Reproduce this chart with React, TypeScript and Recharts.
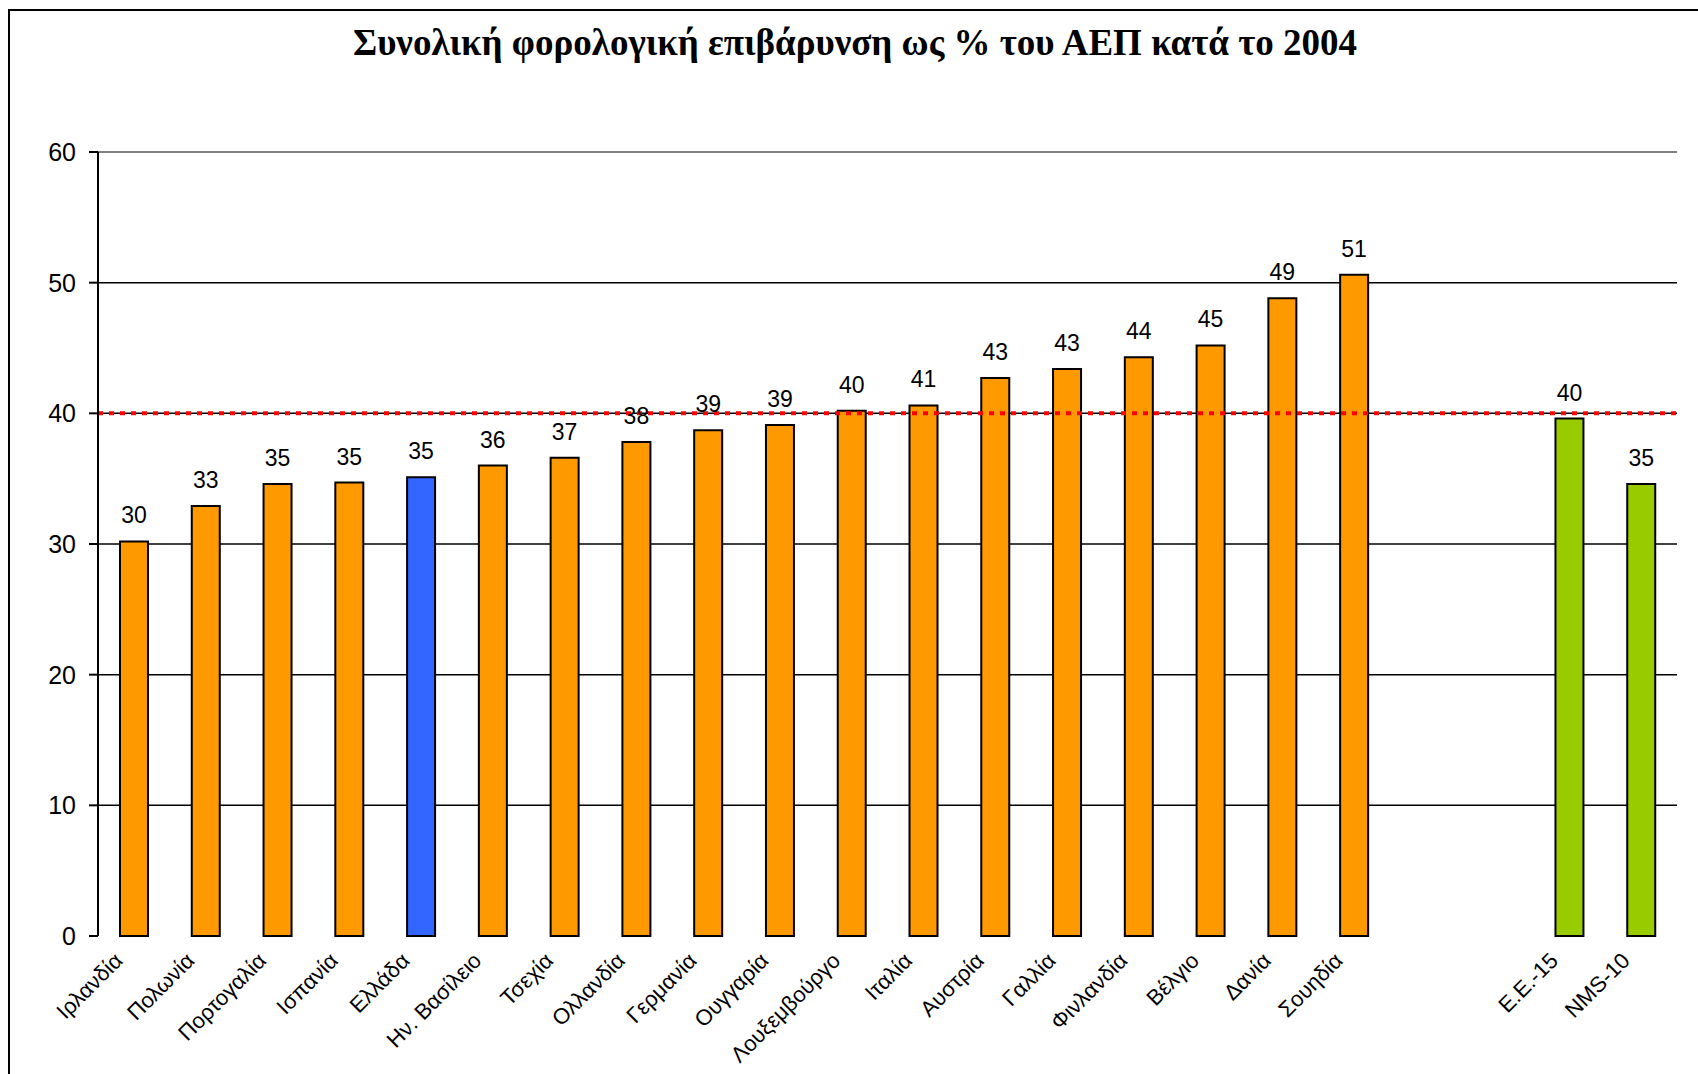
import {
  BarChart,
  Bar,
  XAxis,
  YAxis,
  CartesianGrid,
  ReferenceLine,
  LabelList,
  Cell,
} from "recharts";

// categories (two empty slots separate the countries from the aggregates)
const countries = [
  "Ιρλανδία",
  "Πολωνία",
  "Πορτογαλία",
  "Ισπανία",
  "Ελλάδα",
  "Ην. Βασίλειο",
  "Τσεχία",
  "Ολλανδία",
  "Γερμανία",
  "Ουγγαρία",
  "Λουξεμβούργο",
  "Ιταλία",
  "Αυστρία",
  "Γαλλία",
  "Φινλανδία",
  "Βέλγιο",
  "Δανία",
  "Σουηδία",
  " ",
  "  ",
  "Ε.Ε.-15",
  "NMS-10",
];

// συνολική φορολογική επιβάρυνση, % του ΑΕΠ (2004)
const taxBurden: (number | null)[] = [
  30.2, 32.9, 34.6, 34.7, 35.1, 36.0, 36.6, 37.8, 38.7, 39.1, 40.2, 40.6, 42.7,
  43.4, 44.3, 45.2, 48.8, 50.6, null, null, 39.6, 34.6,
];

const highlighted = "Ελλάδα";
const aggregates = ["Ε.Ε.-15", "NMS-10"];
const euAverage = 40;
const yTicks = [0, 10, 20, 30, 40, 50, 60];

const chartData = countries.map((name, i) => ({ name, value: taxBurden[i] }));
const edgeTicks = Array.from({ length: countries.length + 1 }, (_, i) => i);

const SANS = "'Liberation Sans', Arial, sans-serif";

function barColor(name: string) {
  if (name === highlighted) return "#3366FF";
  if (aggregates.includes(name)) return "#99CC00";
  return "#FF9900";
}

function CountryTick({ x, y, payload }: any) {
  return (
    <text
      transform={`translate(${x - 10}, ${y + 26}) rotate(-45)`}
      textAnchor="end"
      fontSize={22}
      fontFamily={SANS}
      fill="#000"
    >
      {payload.value}
    </text>
  );
}

export default function App() {
  return (
    <div style={{ position: "absolute", left: 0, top: 0, width: 1698, height: 1074, background: "#fff", overflow: "hidden" }}>
      <div
        style={{
          position: "absolute",
          left: 8,
          top: 9,
          width: 1690,
          height: 1065,
          borderLeft: "2px solid #000",
          borderTop: "2px solid #000",
        }}
      />
      <div
        style={{
          position: "absolute",
          left: 6,
          top: 24,
          width: 1698,
          textAlign: "center",
          fontFamily: "'Liberation Serif', 'Times New Roman', serif",
          fontWeight: "bold",
          fontSize: 37,
          lineHeight: "37px",
          color: "#000",
        }}
      >
        Συνολική φορολογική επιβάρυνση ως % του ΑΕΠ κατά το 2004
      </div>
      <div style={{ position: "absolute", left: 0, top: 0 }}>
        <BarChart
          width={1698}
          height={1074}
          data={chartData}
          margin={{ top: 152, right: 21, left: 0, bottom: 8 }}
        >
          <CartesianGrid
            xAxisId="cat"
            yAxisId="left"
            vertical={false}
            horizontalValues={[10, 20, 30, 40, 50]}
            stroke="#000"
            strokeWidth={1.5}
          />
          <XAxis
            xAxisId="edges"
            type="number"
            domain={[0, countries.length]}
            ticks={edgeTicks}
            height={0}
            tickSize={7}
            tick={() => <g />}
            axisLine={{ stroke: "#808080", strokeWidth: 2 }}
            tickLine={{ stroke: "#000", strokeWidth: 2 }}
          />
          <XAxis
            xAxisId="cat"
            dataKey="name"
            height={130}
            interval={0}
            axisLine={false}
            tickLine={false}
            tickSize={0}
            tickMargin={0}
            tick={<CountryTick />}
          />
          <YAxis
            yAxisId="left"
            width={98}
            domain={[0, 60]}
            ticks={yTicks}
            interval={0}
            tickSize={9}
            tickMargin={13}
            axisLine={{ stroke: "#000", strokeWidth: 2 }}
            tickLine={{ stroke: "#000", strokeWidth: 2 }}
            tick={{ fontSize: 25, fill: "#000", fontFamily: SANS }}
          />
          <YAxis
            yAxisId="right"
            orientation="right"
            width={0}
            domain={[0, 60]}
            tick={false}
            tickLine={false}
            axisLine={{ stroke: "#808080", strokeWidth: 2 }}
          />
          <ReferenceLine xAxisId="cat" yAxisId="left" y={60} stroke="#808080" strokeWidth={2} />
          <Bar
            xAxisId="cat"
            yAxisId="left"
            dataKey="value"
            barSize={28}
            stroke="#000"
            strokeWidth={2}
            isAnimationActive={false}
          >
            {chartData.map((d, i) => (
              <Cell key={i} fill={barColor(d.name)} />
            ))}
            <LabelList
              dataKey="value"
              position="top"
              offset={18}
              formatter={(v: any) => (v == null ? "" : Math.round(v))}
              style={{ fontSize: 23, fill: "#000", fontFamily: SANS }}
            />
          </Bar>
          <ReferenceLine
            xAxisId="cat"
            yAxisId="left"
            y={euAverage}
            stroke="#FF0000"
            strokeWidth={4}
            strokeDasharray="5 6"
          />
        </BarChart>
      </div>
    </div>
  );
}
